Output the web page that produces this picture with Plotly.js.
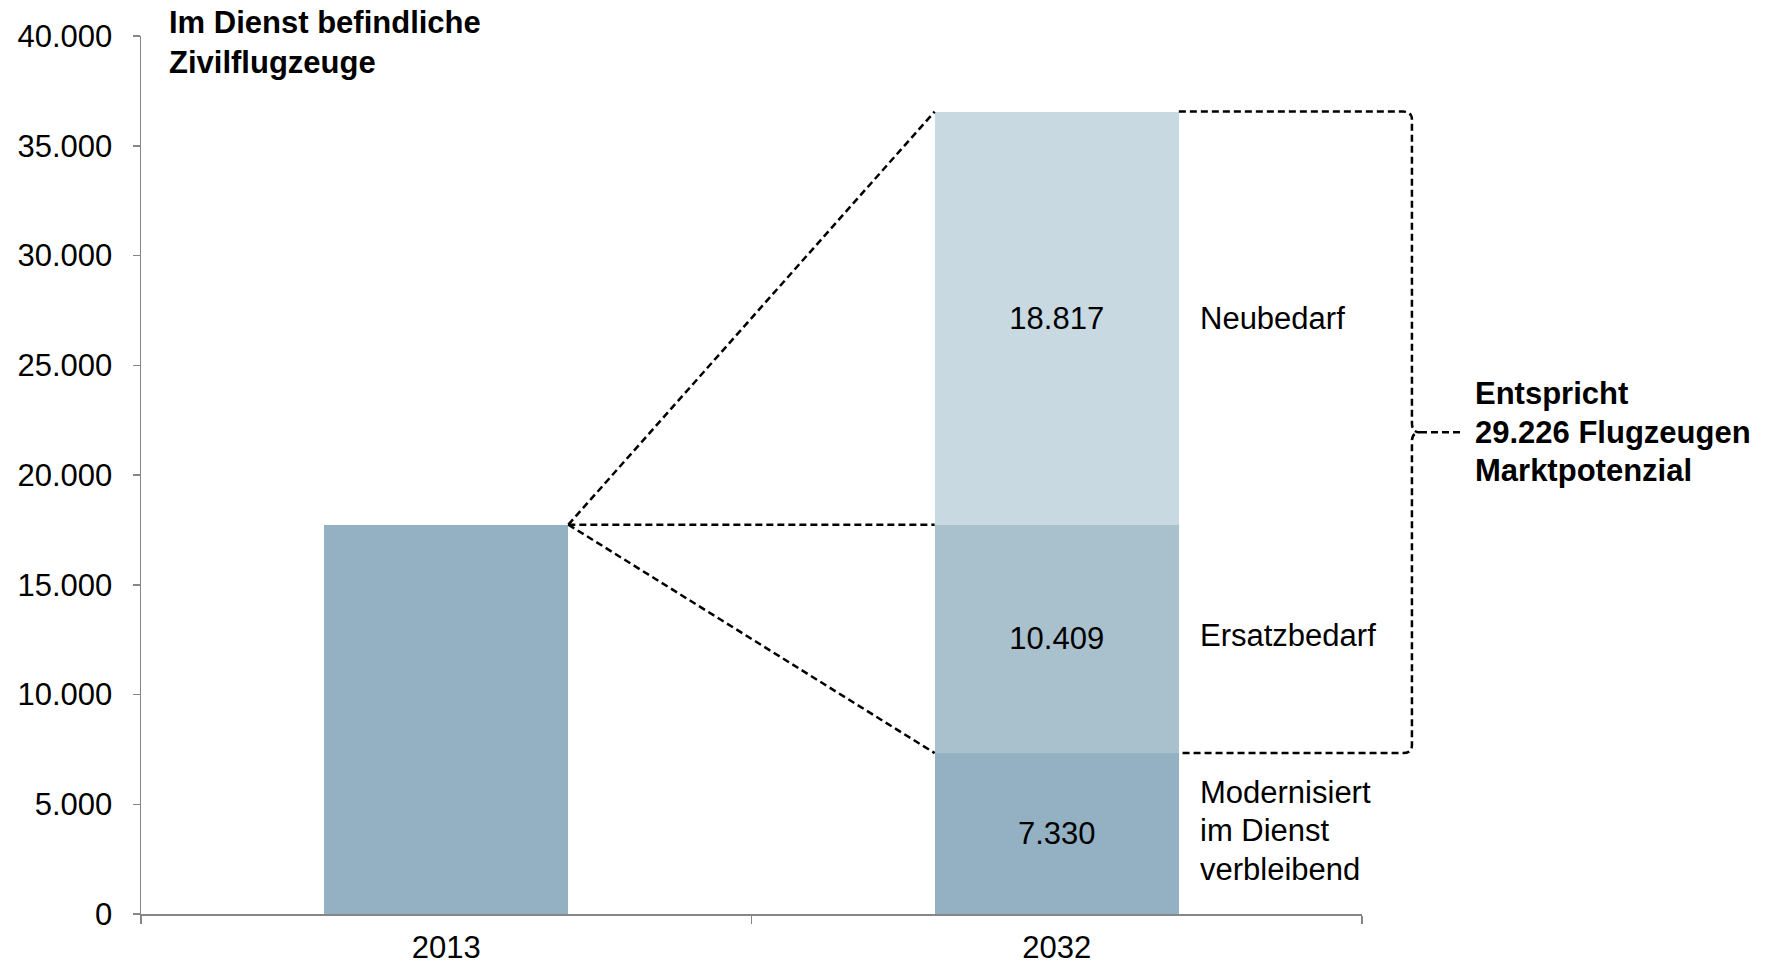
<!DOCTYPE html>
<html>
<head>
<meta charset="utf-8">
<script src="https://cdn.plot.ly/plotly-3.0.1.min.js"></script>
<style>
  html, body { margin: 0; padding: 0; background: #fff; }
  #chart { width: 1767px; height: 965px; }
</style>
</head>
<body>
<div id="chart"></div>
<script>
// ---------- data ----------
const categories = ['2013', '2032'];
const value2013 = [17739];
const segmentLabels = ['Modernisiert<br>im Dienst<br>verbleibend', 'Ersatzbedarf', 'Neubedarf'];
const segmentValues = [7330, 10409, 18817];
const yTickValues = [0, 5000, 10000, 15000, 20000, 25000, 30000, 35000, 40000];
const chartTitle = 'Im Dienst befindliche<br>Zivilflugzeuge';
const braceTextParts = ['Entspricht', 'Flugzeugen', 'Marktpotenzial'];

// ---------- styles ----------
const FONT = 'Liberation Sans, Arial, sans-serif';
const FS = 31;
const LINE_GAP = 38.5;
const segmentColors = ['#93B1C2', '#A9C1CD', '#C8D9E1'];
const color2013 = '#93B1C2';
const axisColor = '#868686';
const BAR_GAP = 0.6;
const halfBar = (1 - BAR_GAP) / 2;

function fmt(n) { return String(n).replace(/\B(?=(\d{3})+(?!\d))/g, '.'); }

const total2032 = segmentValues.reduce((a, b) => a + b, 0);
const marketPotential = segmentValues[1] + segmentValues[2];

const traces = [];
traces.push({
  type: 'bar', x: [categories[0]], y: value2013,
  marker: {color: color2013}, hoverinfo: 'skip', showlegend: false
});
segmentValues.forEach((v, i) => {
  traces.push({
    type: 'bar', x: [categories[1]], y: [v],
    marker: {color: segmentColors[i]},
    text: [fmt(v)], textposition: 'inside', insidetextanchor: 'middle',
    textangle: 0, constraintext: 'none',
    textfont: {family: FONT, size: FS, color: '#000'},
    hoverinfo: 'skip', showlegend: false
  });
});

// cumulative bases
const bases = [];
let acc = 0;
segmentValues.forEach(v => { bases.push(acc); acc += v; });

const annotations = [];
// multi-line text as one annotation per line (tighter line spacing)
function addLines(lines, base) {
  const nL = lines.length;
  lines.forEach((ln, k) => {
    annotations.push(Object.assign({}, base, {
      text: ln,
      yshift: (base.yshift || 0) - (k - (nL - 1) / 2) * LINE_GAP,
      yanchor: 'middle', showarrow: false, align: 'left',
      font: {family: FONT, size: FS, color: '#000'}
    }));
  });
}

annotations.push({
  xref: 'paper', yref: 'paper', x: 0.021, y: 0.993, xanchor: 'left', yanchor: 'middle',
  align: 'left', showarrow: false, text: '<b>' + chartTitle.replace('<br>', '</b><br><b>') + '</b>',
  font: {family: FONT, size: FS, color: '#000'}
});
annotations.push({
  x: categories[0], y: value2013[0], xref: 'x', yref: 'y', yanchor: 'bottom', yshift: 8,
  showarrow: false, text: '<b>' + fmt(value2013[0]) + '</b>',
  font: {family: FONT, size: FS, color: '#000'}
});
annotations.push({
  x: categories[1], y: total2032, xref: 'x', yref: 'y', yanchor: 'bottom', yshift: 8,
  showarrow: false, text: '<b>' + fmt(total2032) + '</b>',
  font: {family: FONT, size: FS, color: '#000'}
});
segmentLabels.forEach((lab, i) => {
  addLines(lab.split('<br>'), {
    x: 1 + halfBar, y: bases[i] + segmentValues[i] / 2, xref: 'x', yref: 'y',
    xanchor: 'left', xshift: 19, yshift: i === 2 ? 0 : 3
  });
});

// brace geometry (paper x, data y)
const braceTop = total2032;
const braceBottom = segmentValues[0];
const braceMid = (braceTop + braceBottom) / 2;
const xBar = (1 + halfBar + 0.5) / 2;
const xV = 1.0409, xC = 1.0336, xTip = 1.0475, xTail = 1.0827;
const r = 364, n = 410;

addLines([
  '<b>' + braceTextParts[0] + '</b>',
  '<b>' + fmt(marketPotential) + ' ' + braceTextParts[1] + '</b>',
  '<b>' + braceTextParts[2] + '</b>'
], {xref: 'paper', yref: 'y', x: 1.0905, y: braceMid, xanchor: 'left', yshift: 0});

const dashLine = {color: '#000', width: 2.5, dash: '7px,4px'};
const shapes = [
  {type: 'line', xref: 'x', yref: 'y', x0: halfBar, y0: value2013[0], x1: 1 - halfBar, y1: total2032, line: dashLine},
  {type: 'line', xref: 'x', yref: 'y', x0: halfBar, y0: value2013[0], x1: 1 - halfBar, y1: value2013[0], line: dashLine},
  {type: 'line', xref: 'x', yref: 'y', x0: halfBar, y0: value2013[0], x1: 1 - halfBar, y1: segmentValues[0], line: dashLine},
  {type: 'path', xref: 'paper', yref: 'y', line: dashLine,
   path: `M ${xBar},${braceTop} L ${xC},${braceTop} Q ${xV},${braceTop} ${xV},${braceTop - r} ` +
         `L ${xV},${braceMid + n} Q ${xV},${braceMid} ${xTip},${braceMid} Q ${xV},${braceMid} ${xV},${braceMid - n} ` +
         `L ${xV},${braceBottom + r} Q ${xV},${braceBottom} ${xC},${braceBottom} L ${xBar},${braceBottom}`},
  {type: 'line', xref: 'paper', yref: 'y', x0: xTip, x1: xTail, y0: braceMid, y1: braceMid, line: dashLine}
];

const layout = {
  width: 1767, height: 965,
  margin: {l: 141, r: 405, t: 36, b: 51, pad: 0},
  paper_bgcolor: '#fff', plot_bgcolor: '#fff',
  separators: ',.',
  barmode: 'stack', bargap: BAR_GAP,
  showlegend: false,
  font: {family: FONT, size: FS, color: '#000'},
  xaxis: {
    type: 'category', categoryorder: 'array', categoryarray: categories,
    range: [-0.5, 1.5], tickson: 'boundaries', ticks: 'outside', ticklen: 8, tickwidth: 1.5,
    tickcolor: axisColor, showline: true, linecolor: axisColor, linewidth: 1.5,
    showgrid: false, zeroline: false, ticklabelstandoff: 5,
    tickfont: {family: FONT, size: FS, color: '#000'}, fixedrange: true
  },
  yaxis: {
    range: [0, 40000], tickvals: yTickValues, tickformat: ',d',
    ticks: 'outside', ticklen: 7, tickwidth: 1.5, tickcolor: axisColor,
    showline: true, linecolor: axisColor, linewidth: 1.5,
    showgrid: false, zeroline: false, ticklabelstandoff: 14,
    tickfont: {family: FONT, size: FS, color: '#000'}, fixedrange: true
  },
  annotations: annotations,
  shapes: shapes
};

Plotly.newPlot('chart', traces, layout, {staticPlot: true, displayModeBar: false});
</script>
</body>
</html>
